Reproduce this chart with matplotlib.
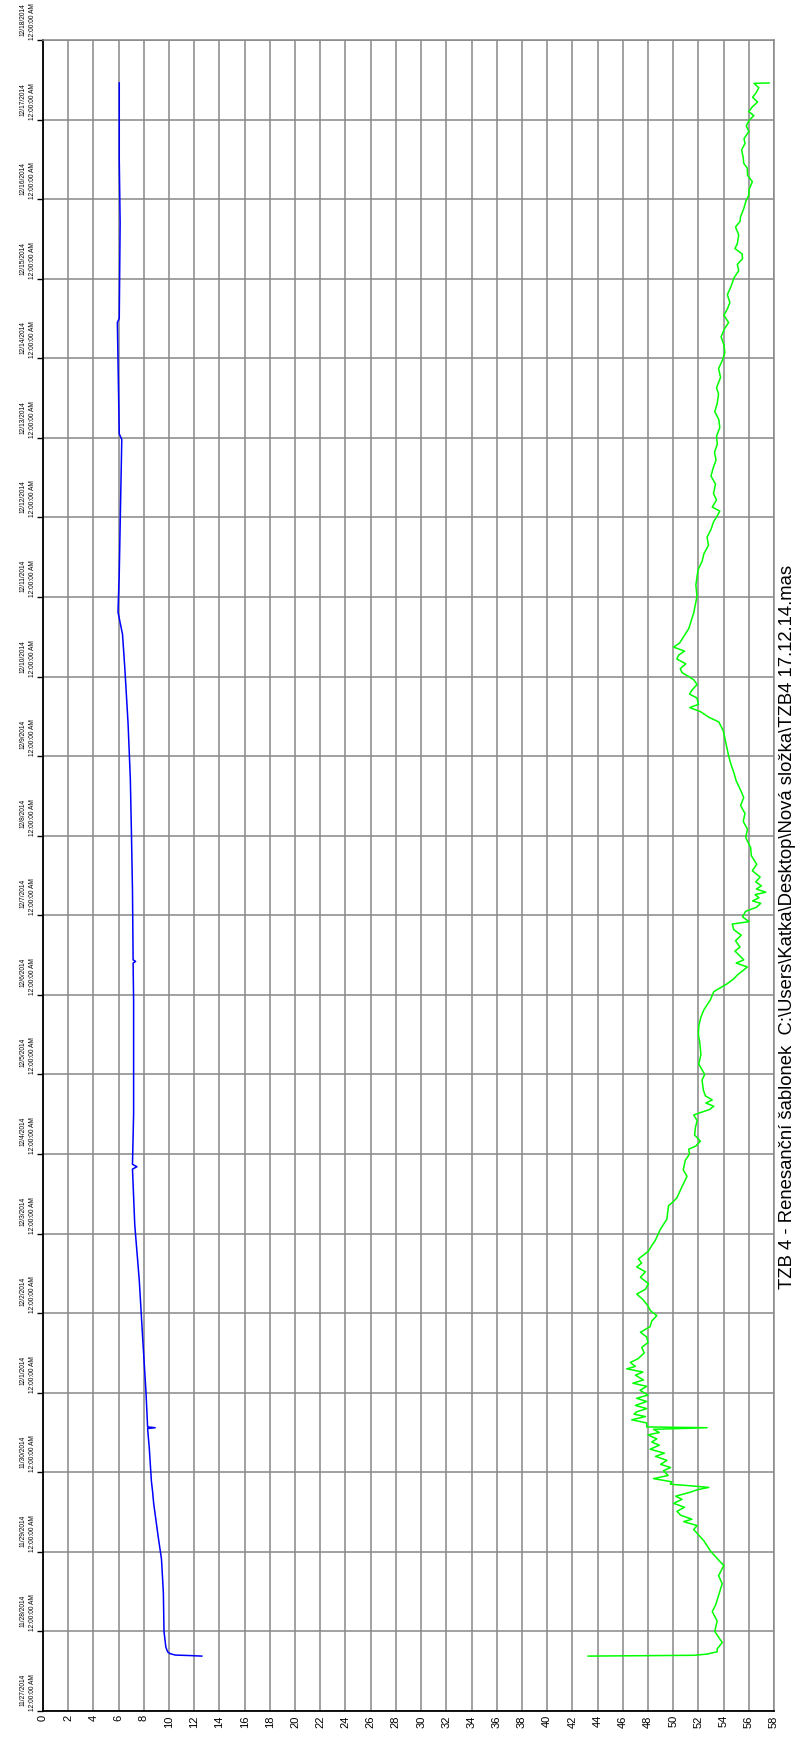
import matplotlib
matplotlib.use("Agg")
import matplotlib.pyplot as plt
import pandas as pd

START = pd.Timestamp("2014-11-27")
TITLE = "TZB 4 - Renesanční šablonek  C:\\Users\\Katka\\Desktop\\Nová složka\\TZB4 17.12.14.mas"

# dny od 27.11.2014 00:00 a odpovídající hodnoty
green_days = [0.690, 0.700, 0.715, 0.745, 0.78, 0.86, 1.00, 1.13, 1.25, 1.33, 1.45, 1.60, 1.70,
              1.83, 1.87, 2.01, 2.14, 2.28, 2.33, 2.38, 2.41, 2.46, 2.51, 2.56, 2.61, 2.66, 2.70,
              2.75, 2.78, 2.81, 2.83, 2.85, 2.88, 2.92, 2.96, 3.02, 3.06, 3.10, 3.15, 3.20, 3.24,
              3.29, 3.34, 3.38, 3.42, 3.47, 3.50, 3.54, 3.56, 3.57, 3.62, 3.66, 3.70, 3.73, 3.76,
              3.80, 3.84, 3.89, 3.93, 3.97, 4.03, 4.08, 4.12, 4.16, 4.22, 4.26, 4.30, 4.33, 4.38,
              4.43, 4.50, 4.57, 4.63, 4.70, 4.76, 4.83, 4.90, 4.97, 5.03, 5.10, 5.17, 5.24, 5.30,
              5.37, 5.45, 5.52, 5.58, 5.63, 5.68, 5.78, 5.85, 5.91, 6.05, 6.18, 6.35, 6.40, 6.45,
              6.59, 6.72, 6.80, 6.92, 7.00, 7.06, 7.10, 7.16, 7.24, 7.33, 7.42, 7.49, 7.52, 7.56,
              7.60, 7.64, 7.68, 7.73, 7.80, 7.93, 8.00, 8.13, 8.25, 8.40, 8.50, 8.61, 8.72, 8.81,
              8.94, 9.04, 9.14, 9.20, 9.25, 9.30, 9.35, 9.40, 9.44, 9.48, 9.55, 9.60, 9.68, 9.75,
              9.82, 9.89, 9.92, 9.98, 10.05, 10.10, 10.15, 10.18, 10.22, 10.26, 10.29, 10.33,
              10.37, 10.42, 10.48, 10.56, 10.64, 10.75, 10.85, 10.98, 11.08, 11.18, 11.28, 11.38,
              11.48, 11.59, 11.69, 11.79, 11.89, 11.99, 12.19, 12.32, 12.43, 12.49, 12.56, 12.61,
              12.65, 12.73, 12.78, 12.83, 12.90, 12.96, 13.00, 13.05, 13.10, 13.16, 13.22, 13.27,
              13.32, 13.37, 13.42, 13.47, 13.60, 13.80, 14.01, 14.15, 14.34, 14.45, 14.54, 14.65,
              14.75, 14.85, 14.95, 15.02, 15.08, 15.13, 15.22, 15.30, 15.42, 15.52, 15.62, 15.72,
              15.82, 15.92, 16.02, 16.13, 16.23, 16.33, 16.43, 16.55, 16.63, 16.76, 16.87, 16.97,
              17.07, 17.17, 17.27, 17.37, 17.45, 17.54, 17.62, 17.70, 17.80, 17.91, 18.01, 18.10,
              18.18, 18.25, 18.31, 18.38, 18.44, 18.55, 18.65, 18.72, 18.78, 18.88, 18.98, 19.05,
              19.12, 19.22, 19.30, 19.39, 19.45, 19.52, 19.62, 19.70, 19.76, 19.85, 19.92, 19.99,
              20.05, 20.10, 20.16, 20.22, 20.28, 20.33, 20.40, 20.455, 20.46]
green_vals = [43.25, 51.63, 52.69, 53.49, 53.49, 53.89, 53.3, 53.49, 53.1, 53.36, 53.6, 53.89, 53.6,
              54.02, 53.76, 52.96, 52.43, 51.63, 51.9, 50.83, 51.49, 50.6, 50.30, 50.9, 50.03, 50.7,
              50.2, 51.36, 51.9, 52.82, 51.4, 49.77, 49.9, 48.44, 49.6, 49.23, 49.8, 49.0, 49.50,
              48.6, 49.3, 48.17, 48.9, 48.3, 48.70, 48.0, 48.9, 48.44, 52.69, 47.9, 47.90, 46.71,
              47.8, 46.9, 47.11, 47.9, 47.0, 47.90, 47.1, 48.0, 47.37, 47.9, 46.8, 47.64, 47.0,
              47.6, 46.31, 47.0, 46.6, 47.24, 47.7, 47.51, 48.0, 47.90, 47.4, 48.17, 48.3, 48.70,
              48.2, 47.96, 47.6, 47.11, 47.8, 48.04, 47.4, 47.8, 47.11, 47.5, 47.24, 48.04, 48.3,
              48.57, 48.97, 49.50, 49.63, 50.0, 50.30, 50.70, 51.10, 50.8, 50.96, 51.3, 51.23, 51.8,
              52.16, 51.7, 51.76, 51.9, 51.63, 52.16, 52.9, 53.22, 52.6, 53.1, 52.56, 52.4, 52.29,
              52.5, 52.03, 52.2, 52.11, 52.0, 52.03, 52.2, 52.43, 52.96, 53.22, 54.29, 54.8, 55.09,
              55.5, 55.88, 55.0, 55.6, 55.35, 54.9, 55.3, 54.95, 55.4, 54.8, 54.69, 56.02, 55.5,
              55.75, 56.6, 56.95, 56.3, 56.81, 56.5, 57.35, 56.6, 57.0, 56.55, 56.9, 56.28, 56.63,
              56.2, 56.15, 55.75, 55.9, 55.56, 55.7, 55.35, 55.6, 55.30, 55.0, 54.82, 54.6, 54.42,
              54.15, 53.97, 53.62, 52.82, 52.16, 51.31, 52.0, 51.89, 51.3, 51.49, 51.9, 51.63,
              51.23, 50.7, 50.56, 51.0, 50.3, 50.43, 50.9, 50.03, 50.5, 50.70, 51.23, 51.63, 51.89,
              51.8, 51.97, 52.3, 52.43, 52.8, 52.69, 53.0, 53.22, 53.5, 53.70, 53.1, 53.44, 53.2,
              53.36, 53.0, 53.17, 53.4, 53.28, 53.5, 53.44, 53.7, 53.62, 53.3, 53.49, 53.6, 53.44,
              53.76, 53.6, 53.89, 54.1, 54.02, 53.8, 54.07, 54.4, 54.02, 54.3, 54.50, 54.3, 54.61,
              54.82, 55.2, 55.09, 55.5, 55.48, 54.9, 55.09, 55.2, 54.95, 55.3, 55.35, 55.6, 55.78,
              56.0, 56.02, 56.28, 55.9, 55.88, 55.6, 55.56, 55.43, 55.7, 55.62, 56.0, 55.8, 56.02,
              56.4, 56.0, 56.28, 56.7, 56.3, 56.55, 56.8, 56.41, 57.61]

blue_days = [0.690, 0.697, 0.703, 0.72, 0.74, 0.80, 1.00, 1.20, 1.49, 1.91, 2.19, 2.61, 2.75,
             2.89, 3.31, 3.55, 3.56, 3.57, 4.01, 4.71, 5.41, 6.11, 6.81, 6.84, 6.87, 7.51, 8.91,
             9.40, 9.42, 9.44, 10.31, 11.01, 11.71, 12.41, 13.11, 13.53, 13.81, 14.3, 15.98,
             16.05, 17.45, 17.50, 18.70, 19.5, 20.46]
blue_vals = [12.6, 11.6, 10.5, 10.1, 9.9, 9.75, 9.6, 9.58, 9.55, 9.4, 9.14, 8.78, 8.7, 8.6,
             8.43, 8.3, 8.9, 8.3, 8.17, 7.9, 7.64, 7.28, 7.10, 7.45, 7.10, 7.19, 7.19, 7.15,
             7.35, 7.15, 7.10, 7.02, 6.93, 6.75, 6.49, 6.31, 5.95, 6.05, 6.25, 6.05, 5.9, 6.05,
             6.12, 6.05, 6.05]

x_ticks = list(range(0, 59, 2))
n_days = 21


def to_time(days):
    return START + pd.to_timedelta(days, unit="D")


fig = plt.figure(figsize=(8.04, 17.47), dpi=100)
ax = fig.add_axes([43 / 804, 36 / 1747, 731 / 804, 1671 / 1747])

ax.plot(blue_vals, to_time(blue_days), color="#0000FF", lw=1.1)
ax.plot(green_vals, to_time(green_days), color="#00FF00", lw=1.1)

ax.set_xlim(0, 58)
ax.set_ylim(START, START + pd.Timedelta(days=n_days))

ax.set_xticks(x_ticks)
ax.set_xticklabels([str(v) for v in x_ticks], rotation=90, fontsize=8,
                   family=["Liberation Sans", "DejaVu Sans"], va="top", ha="center")

day_ticks = [START + pd.Timedelta(days=i) for i in range(n_days + 1)]
ax.set_yticks(day_ticks)
ax.set_yticklabels([f"{d.month}/{d.day}/{d.year}\n12:00:00 AM" for d in day_ticks],
                   rotation=90, fontsize=4.8, va="bottom", ha="right", linespacing=1.6,
                   family=["Liberation Sans", "DejaVu Sans"])
ax.tick_params(axis="y", length=4, width=1, pad=1, color="black")
ax.tick_params(axis="x", length=0, pad=3)

ax.grid(True, color="#888888", lw=1.1)
ax.set_axisbelow(True)
for side in ("top", "right"):
    ax.spines[side].set_color("#888888")
    ax.spines[side].set_linewidth(1.1)
for side in ("left", "bottom"):
    ax.spines[side].set_color("black")
    ax.spines[side].set_linewidth(1.3)

fig.text(788 / 804, 1 - 927 / 1747, TITLE, rotation=90, fontsize=13.3,
         family=["Liberation Sans", "DejaVu Sans"], ha="center", va="center")

fig.savefig("out.png", dpi=100)
